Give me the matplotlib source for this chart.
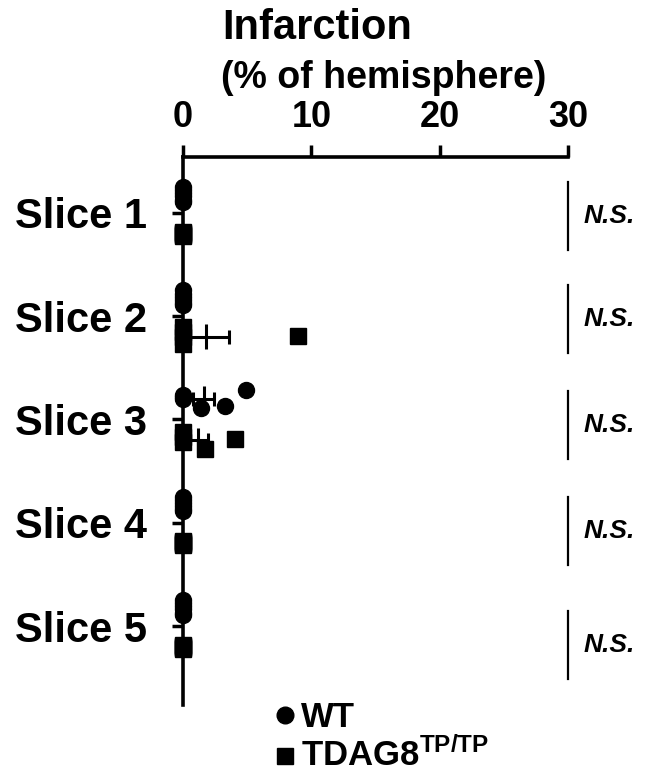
import numpy as np
import matplotlib
matplotlib.use("Agg")
import matplotlib.pyplot as plt
from matplotlib.lines import Line2D

plt.rcParams['font.family'] = ['Liberation Sans', 'DejaVu Sans']
plt.rcParams['font.weight'] = 'bold'
plt.rcParams['mathtext.fontset'] = 'custom'
plt.rcParams['mathtext.rm'] = 'Liberation Sans:bold'
plt.rcParams['mathtext.bf'] = 'Liberation Sans:bold'
plt.rcParams['mathtext.it'] = 'Liberation Sans:bold:italic'

# ---- data ----
slices = ["Slice 1", "Slice 2", "Slice 3", "Slice 4", "Slice 5"]
wt_values = [
    [0, 0, 0, 0, 0, 0],
    [0, 0, 0, 0, 0, 0],
    [0, 0, 0, 1.4, 3.3, 4.9],
    [0, 0, 0, 0, 0, 0],
    [0, 0, 0, 0, 0, 0],
]
td_values = [
    [0, 0, 0, 0, 0],
    [0, 0, 0, 0, 9.0],
    [0, 0, 0, 1.75, 4.05],
    [0, 0, 0, 0, 0],
    [0, 0, 0, 0, 0],
]
xticks = [0, 10, 20, 30]
sig_labels = ["N.S.", "N.S.", "N.S.", "N.S.", "N.S."]

# ---- layout (vertical scatter offsets, in slice units) ----
wt_jitter = [
    [-0.25, -0.22, -0.19, -0.16, -0.13, -0.11],
    [-0.25, -0.22, -0.19, -0.16, -0.13, -0.11],
    [-0.24, -0.22, -0.20, -0.11, -0.13, -0.29],
    [-0.25, -0.22, -0.19, -0.16, -0.13, -0.11],
    [-0.25, -0.22, -0.19, -0.16, -0.13, -0.11],
]
td_jitter = [
    [0.18, 0.19, 0.20, 0.21, 0.22],
    [0.10, 0.15, 0.20, 0.27, 0.19],
    [0.12, 0.17, 0.22, 0.29, 0.19],
    [0.18, 0.19, 0.20, 0.21, 0.22],
    [0.18, 0.19, 0.20, 0.21, 0.22],
]
sig_shift = [0.03, 0.03, 0.05, 0.08, 0.18]
WT_OFF, TD_OFF = -0.20, 0.20

W, H = 648, 774
fig = plt.figure(figsize=(W / 100, H / 100), dpi=100)
ax = fig.add_axes([183 / W, 1 - 705 / H, (568 - 183) / W, (705 - 157) / H])

ms = 11.5
for i, (wv, tv) in enumerate(zip(wt_values, td_values)):
    pos = i + 1
    ax.plot(wv, [pos + j for j in wt_jitter[i]], 'o', color='black', ms=ms,
            mec='black', clip_on=False, zorder=3)
    ax.plot(tv, [pos + j for j in td_jitter[i]], 's', color='black', ms=ms,
            mec='black', clip_on=False, zorder=3)
    for vals, off in ((wv, WT_OFF), (tv, TD_OFF)):
        v = np.array(vals, dtype=float)
        m = v.mean()
        sem = v.std(ddof=1) / np.sqrt(len(v))
        y = pos + off
        if sem > 0:
            ax.plot([m - sem, m + sem], [y, y], color='black', lw=2.2, zorder=4,
                    clip_on=False, solid_capstyle='butt')
            for xc in (m - sem, m + sem):
                ax.plot([xc, xc], [y - 0.07, y + 0.07], color='black', lw=2.2,
                        zorder=4, clip_on=False, solid_capstyle='butt')
            ax.plot([m, m], [y - 0.12, y + 0.12], color='black', lw=2.2,
                    zorder=4, clip_on=False, solid_capstyle='butt')

# significance annotations
for i, lab in enumerate(sig_labels):
    pos = i + 1 + sig_shift[i]
    ax.plot([30, 30], [pos - 0.33, pos + 0.33], color='black', lw=1.6,
            clip_on=False)
    ax.text(31.2, pos, lab, style='italic', fontweight='bold',
            fontsize=19, ha='left', va='center')

ax.set_xlim(0, 30)
ax.set_ylim(5.765, 0.458)
ax.xaxis.tick_top()
ax.set_xticks(xticks)
ax.set_xticklabels([str(t) for t in xticks], fontsize=26, fontweight='bold')
ax.set_yticks(range(1, len(slices) + 1))
ax.set_yticklabels(slices, fontsize=30, fontweight='bold')
ax.tick_params(axis='x', length=9, width=2.5, pad=7)
ax.tick_params(axis='y', length=8, width=2.5, pad=18)
for s in ('right', 'bottom'):
    ax.spines[s].set_visible(False)
for s in ('left', 'top'):
    ax.spines[s].set_linewidth(2.6)

fig.text(222 / W, 1 - 28 / H, "Infarction", fontsize=30, fontweight='bold',
         ha='left', va='center')
fig.text(221 / W, 1 - 78 / H, "(% of hemisphere)", fontsize=27,
         fontweight='bold', ha='left', va='center')

# legend
fig.add_artist(Line2D([285 / W], [1 - 715 / H], marker='o', color='black',
                      ms=12, ls='none', transform=fig.transFigure))
fig.add_artist(Line2D([285 / W], [1 - 756 / H], marker='s', color='black',
                      ms=11, ls='none', transform=fig.transFigure))
fig.text(301 / W, 1 - 727 / H, "WT", fontsize=25, fontweight='bold',
         ha='left', va='baseline')
fig.text(301 / W, 1 - 766 / H, r"TDAG8$^{\mathrm{TP/TP}}$", fontsize=25,
         fontweight='bold', ha='left', va='baseline')

fig.savefig("out.png", dpi=100)
